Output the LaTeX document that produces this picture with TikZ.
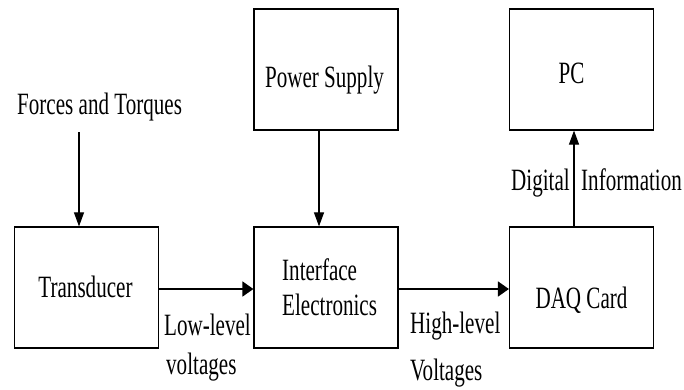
\documentclass[tikz,border=0pt]{standalone}
\usepackage{fontspec}
\setmainfont[FakeStretch=0.68]{Liberation Serif}
\usetikzlibrary{arrows.meta}
\begin{document}
\begin{tikzpicture}[x=1pt,y=-1pt,
  box/.style={draw,line width=1.2pt,minimum width=144pt,minimum height=121pt,inner sep=0pt},
  txt/.style={inner sep=0pt,font=\fontsize{31}{37}\selectfont},
  varr/.style={line width=1.1pt,-{Triangle[length=14pt,width=10pt]}},
  harr/.style={line width=1.8pt,-{Triangle[length=11pt,width=15pt]}}]
\useasboundingbox (0,0) rectangle (684,389);
% boxes
\node[box] (ps) at (326,69.5) {};
\node[box] (pc) at (581.5,69.5) {};
\node[box] (tr) at (86.5,287.5) {};
\node[box] (ie) at (326,287.5) {};
\node[box] (daq) at (581.5,287.5) {};
% box texts
\node[txt,anchor=base] (pst) at (324.5,87) {Power Supply};
\node[txt,anchor=base] (pct) at (571.5,83) {PC};
\node[txt,anchor=base] (trt) at (85.5,297) {Transducer};
\node[txt,anchor=base west] (iet1) at (282,280) {Interface};
\node[txt,anchor=base west] (iet2) at (282,315) {Electronics};
\node[txt,anchor=base] (daqt) at (581.5,308) {DAQ Card};
% labels
\node[txt,anchor=base west] (ft) at (17,114) {Forces and Torques};
\node[txt,anchor=base west] (ll1) at (164,335) {Low-level};
\node[txt,anchor=base west] (ll2) at (166,374) {voltages};
\node[txt,anchor=base west] (hl1) at (410,333) {High-level};
\node[txt,anchor=base west] (hl2) at (410,380) {Voltages};
\node[txt,anchor=base west] (di1) at (511,190) {Digital};
\node[txt,anchor=base west] (di2) at (581,190) {Information};
% connectors
\coordinate (f) at (79,132);
\draw[varr] (f) -- (f |- tr.north);
\draw[varr] ([xshift=-7pt]ps.south) -- ([xshift=-7pt]ie.north);
\draw[harr] ([yshift=-1.5pt]tr.east) -- ([yshift=-1.5pt]ie.west);
\draw[harr] ([yshift=-1.5pt]ie.east) -- ([yshift=-1.5pt]daq.west);
\draw[varr] ([xshift=-7.5pt]daq.north) -- ([xshift=-7.5pt]pc.south);
\end{tikzpicture}
\end{document}
